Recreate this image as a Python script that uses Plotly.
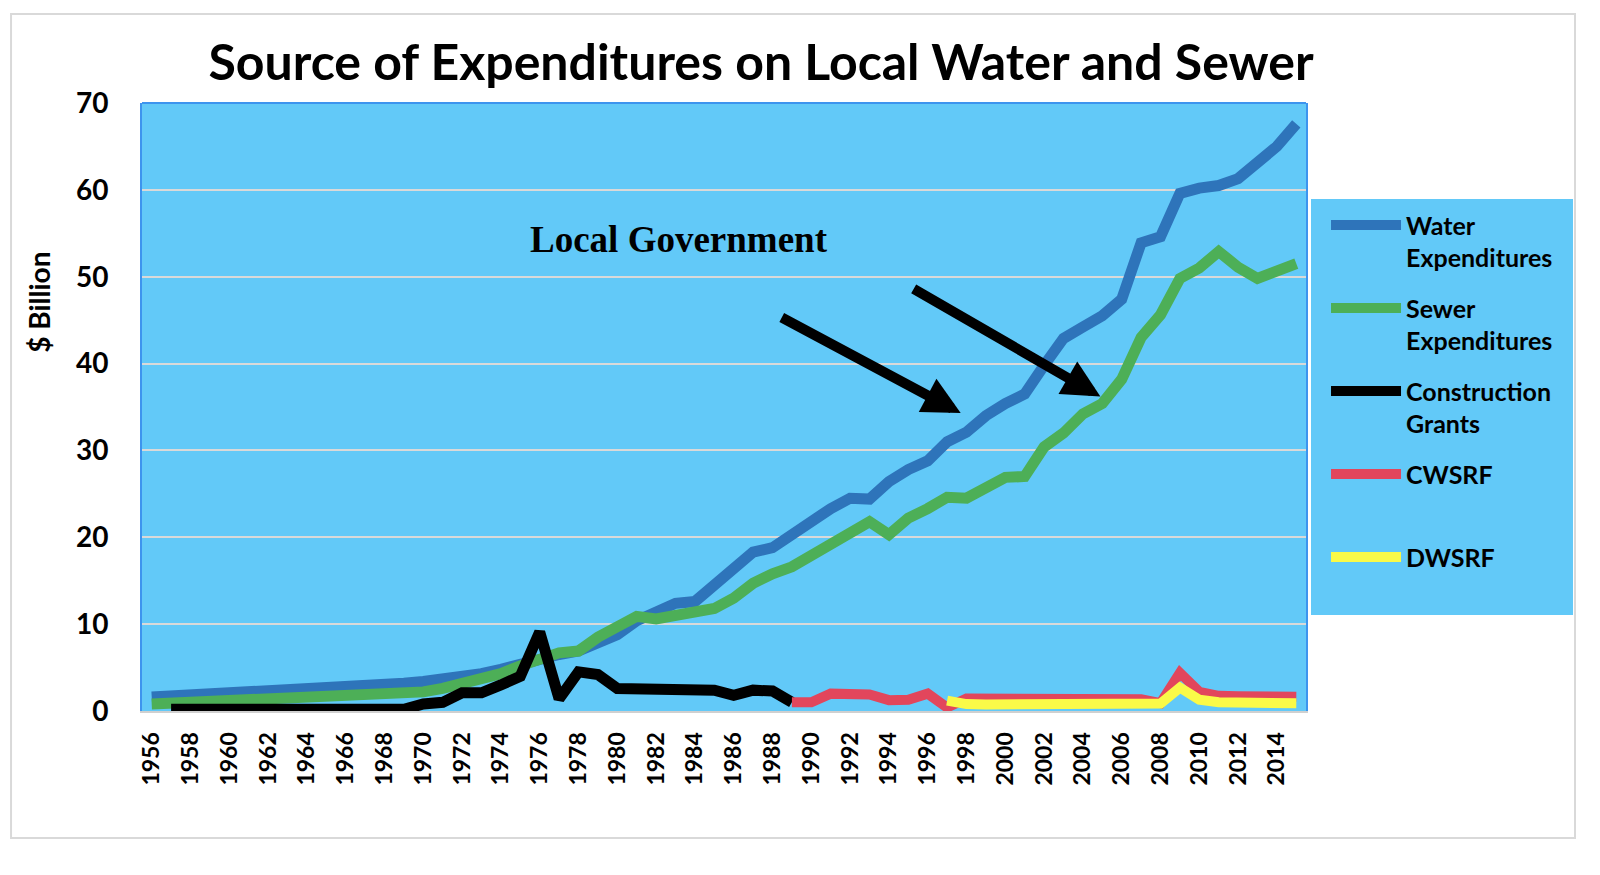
import plotly.graph_objects as go

years = list(range(1956, 2016))

water = [1.6, 1.7, 1.8, 1.9, 2.0, 2.2, 2.3, 2.4, 2.5, 2.7,
         2.9, 2.8, 3.0, 3.2, 3.4, 3.6, 3.9, 4.3, 4.8, 5.4,
         6.2, 6.5, 6.9, 7.8, 8.8, 10.4, 11.4, 12.4, 12.6, 14.4,
         16.2, 18.3, 18.8, 20.3, 21.9, 23.3, 24.5, 24.4, 26.4, 27.8,
         28.8, 31.0, 32.1, 34.0, 35.4, 36.5, 39.8, 42.9, 44.2, 45.5,
         47.4, 53.9, 54.6, 59.6, 60.2, 60.5, 61.3, 63.2, 65.0, 67.6]

sewer = [0.8, 0.9, 1.0, 1.1, 1.2, 1.3, 1.4, 1.5, 1.6, 1.6,
         1.7, 1.7, 1.8, 1.9, 2.2, 2.6, 3.2, 3.6, 4.3, 5.2,
         5.9, 6.7, 6.9, 8.5, 9.7, 10.9, 10.6, 11.0, 11.3, 11.8,
         13.0, 14.7, 15.8, 16.6, 17.9, 19.1, 20.4, 21.8, 20.3, 22.2,
         23.3, 24.6, 24.5, 25.7, 26.9, 27.0, 30.4, 32.0, 34.2, 35.4,
         38.2, 43.0, 45.6, 49.8, 51.0, 52.9, 51.1, 49.8, 50.6, 51.5]

# construction grants run 1957-1989
grants = [None, 0.2, 0.2, 0.2, 0.2, 0.2, 0.2, 0.2, 0.2, 0.2,
          0.2, 0.2, 0.2, 0.2, 0.8, 1.0, 2.1, 2.1, 3.0, 4.0,
          9.1, 1.4, 4.5, 4.2, 2.6, 2.6, 2.4, 2.4, 2.4, 2.4,
          1.8, 2.4, 2.3, 1.0] + [None] * 26

# CWSRF from 1989, DWSRF from 1997
cwsrf = [None] * 33 + [1.0, 1.0, 2.0, 1.95, 1.9, 1.25, 1.3, 2.0, 0.4, 1.45,
                       1.45, 1.5, 1.5, 1.5, 1.5, 1.5, 1.4, 1.3, 1.35, 0.9,
                       4.4, 2.2, 1.75, 1.7, 1.65, 1.65, 1.65]

dwsrf = [None] * 41 + [1.2, 0.8, 0.75, 0.75, 0.75, 0.75, 0.75, 0.75, 0.75, 0.75,
                       0.75, 0.85, 2.7, 1.3, 1.0, 0.95, 0.9, 0.9, 0.9]

tick_years = list(range(1956, 2015, 2))
tick_labels = [str(y) for y in tick_years]

series = [
    ('Water<br>Expenditures', water, '#2E74BA', 11),
    ('Sewer<br>Expenditures', sewer, '#4DAF57', 11),
    ('Construction<br>Grants', grants, '#000000', 11),
    ('CWSRF<br> ', cwsrf, '#E2465C', 10),
    ('DWSRF<br> ', dwsrf, '#FAFA48', 10),
]

fig = go.Figure()
for i, (name, vals, color, width) in enumerate(series):
    fig.add_trace(go.Scatter(x=years, y=vals, mode='lines', name=name,
                             legendgroup=str(i),
                             line=dict(color=color, width=width)))

font_main = dict(family='Lato', color='black', weight='bold')

# page body has an 8px margin, so the figure is 16px smaller than the window
fig.update_layout(
    width=1584, height=859,
    paper_bgcolor='white', plot_bgcolor='#62C9F8',
    margin=dict(l=134, r=286, t=95, b=156),
    title=dict(text='Source of Expenditures on Local Water and Sewer',
               x=0.4754, xref='container', xanchor='center',
               y=0.936, yref='container', yanchor='middle',
               font=dict(size=50, **font_main)),
    xaxis=dict(range=[1955.5, 2015.5], tickvals=tick_years, ticktext=tick_labels,
               tickangle=-90, tickfont=dict(size=23, **font_main),
               showgrid=False, zeroline=False, ticks='', ticklabelstandoff=10,
               showline=True, linecolor='#D0D0D0', linewidth=2),
    yaxis=dict(range=[0, 70], dtick=10, tickfont=dict(size=28, **font_main),
               gridcolor='#D9D9D9', gridwidth=2, zeroline=False, ticks='',
               ticklabelstandoff=26,
               showline=True, mirror=True, linecolor='#3D94EE', linewidth=2),
    legend=dict(x=1.0172, y=0.8366, xanchor='left', yanchor='top',
                bgcolor='rgba(0,0,0,0)', valign='top', tracegroupgap=15,
                itemwidth=70, font=dict(size=25, **font_main)),
    shapes=[
        # legend background
        dict(type='rect', xref='paper', yref='paper', x0=1.0043, x1=1.2294,
             y0=0.1579, y1=0.8421, fillcolor='#62C9F8', line=dict(width=0),
             layer='below'),
        # top border of plot area
        dict(type='line', xref='paper', yref='paper', x0=0, x1=1, y0=1, y1=1,
             line=dict(color='#3D94EE', width=2)),
        # outer frame
        dict(type='rect', xref='paper', yref='paper', x0=-0.1125, x1=1.2311,
             y0=-0.2089, y1=1.1464, line=dict(color='#D9D9D9', width=2)),
    ],
    annotations=[
        dict(text='$ Billion', xref='paper', yref='paper', x=-0.0885, y=0.673,
             xanchor='center', yanchor='middle',
             textangle=-90, showarrow=False, font=dict(size=28, **font_main)),
        dict(text='Local Government', x=1983.2, y=54.3, showarrow=False,
             font=dict(family='Liberation Serif', size=37, color='black', weight='bold')),
        dict(x=1997.7, y=34.3, ax=1988.4, ay=45.4, xref='x', yref='y',
             axref='x', ayref='y', text='', showarrow=True, arrowhead=2,
             arrowsize=0.75, arrowwidth=10, arrowcolor='black'),
        dict(x=2004.9, y=36.2, ax=1995.2, ay=48.7, xref='x', yref='y',
             axref='x', ayref='y', text='', showarrow=True, arrowhead=2,
             arrowsize=0.75, arrowwidth=10, arrowcolor='black'),
    ],
)

fig.write_html('out.html')
